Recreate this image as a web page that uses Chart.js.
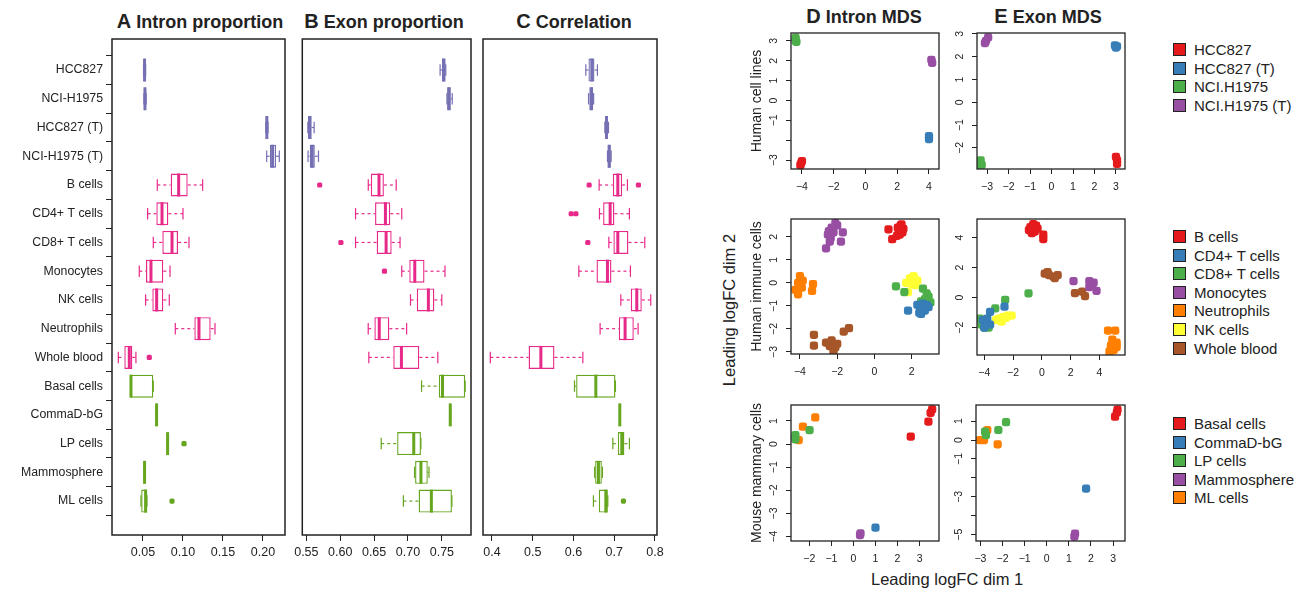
<!DOCTYPE html>
<html>
<head>
<meta charset="utf-8">
<script src="https://cdn.jsdelivr.net/npm/chart.js@4.4.0/dist/chart.umd.min.js"></script>
<style>
  body { margin: 0; width: 1310px; height: 592px; position: relative; overflow: hidden; background: #fff;
         font-family: "Liberation Sans", Arial, sans-serif; color: #222; }
  canvas { position: absolute; }
  .titulo { position: absolute; width: 300px; text-align: center; font-weight: bold; font-size: 18px; line-height: 22px; }
  .titulo span { font-size: 20px; margin-right: 5px; }
  .eje { position: absolute; font-size: 16.5px; white-space: nowrap; line-height: 20px; }
  .item { position: absolute; left: 1173px; height: 18px; line-height: 18px; font-size: 15px; white-space: nowrap; }
  .item i { display: inline-block; width: 11px; height: 11px; border: 1px solid #222; vertical-align: -1px; margin-right: 8px; }
</style>
</head>
<body>
<div class="titulo" style="left:50px;top:10px"><span>A</span>Intron proportion</div>
<div class="titulo" style="left:234px;top:10px"><span>B</span>Exon proportion</div>
<div class="titulo" style="left:424px;top:10px"><span>C</span>Correlation</div>
<div class="titulo" style="left:714px;top:5px"><span>D</span>Intron MDS</div>
<div class="titulo" style="left:898px;top:5px"><span>E</span>Exon MDS</div>
<div class="eje" style="left:871px;top:569px">Leading logFC dim 1</div>
<div class="eje" style="left:729px;top:310px;transform:translate(-50%,-50%) rotate(-90deg)">Leading logFC dim 2</div>

<script>
Chart.defaults.animation = false;
Chart.defaults.font.family = '"Liberation Sans", Arial, sans-serif';
Chart.defaults.color = "#222";

// ---- boxplots (A, B, C) ----
const categorias = ["HCC827", "NCI-H1975", "HCC827 (T)", "NCI-H1975 (T)", "B cells", "CD4+ T cells",
  "CD8+ T cells", "Monocytes", "NK cells", "Neutrophils", "Whole blood", "Basal cells", "CommaD-bG",
  "LP cells", "Mammosphere", "ML cells"];
const grupoCategoria = [0, 0, 0, 0, 1, 1, 1, 1, 1, 1, 1, 2, 2, 2, 2, 2];
const coloresGrupo = ["#7570B3", "#E7298A", "#66A61E"];

// [min, q1, mediana, q3, max]
const intronCajas = [
  [0.0507, 0.0512, 0.052, 0.0528, 0.0533],
  [0.0512, 0.0518, 0.0525, 0.0535, 0.054],
  [0.2035, 0.204, 0.2048, 0.2058, 0.2063],
  [0.2046, 0.2087, 0.212, 0.2163, 0.2204],
  [0.0679, 0.0846, 0.0946, 0.1059, 0.1246],
  [0.0558, 0.0667, 0.0738, 0.0817, 0.1],
  [0.0629, 0.0742, 0.0863, 0.0938, 0.1075],
  [0.0454, 0.0538, 0.06, 0.0754, 0.0838],
  [0.0533, 0.0617, 0.0671, 0.0754, 0.0829],
  [0.0904, 0.1142, 0.12, 0.1346, 0.14],
  [0.0192, 0.0267, 0.0329, 0.0367, 0.0412],
  [0.0346, 0.0346, 0.035, 0.0629, 0.0629],
  [0.0667, 0.0668, 0.067, 0.0672, 0.0673],
  [0.0803, 0.0805, 0.0808, 0.081, 0.0812],
  [0.0517, 0.0518, 0.052, 0.0522, 0.0523],
  [0.0475, 0.0478, 0.0533, 0.055, 0.055]
];
const intronAtipicos = [[10, 0.0579], [13, 0.1013], [15, 0.0863]];

const exonCajas = [
  [0.7474, 0.7502, 0.7527, 0.7555, 0.7558],
  [0.7575, 0.7578, 0.7605, 0.7631, 0.7653],
  [0.5522, 0.5525, 0.555, 0.5578, 0.5615],
  [0.5525, 0.555, 0.5587, 0.5625, 0.5679],
  [0.6414, 0.6451, 0.6572, 0.6644, 0.6826],
  [0.6226, 0.6514, 0.6667, 0.6739, 0.6908],
  [0.6226, 0.6538, 0.6677, 0.6759, 0.6883],
  [0.6908, 0.7019, 0.71, 0.7244, 0.7546],
  [0.7037, 0.713, 0.7301, 0.7389, 0.7499],
  [0.6413, 0.6504, 0.6576, 0.6725, 0.698],
  [0.6422, 0.6783, 0.6903, 0.7167, 0.744],
  [0.72, 0.7455, 0.7509, 0.7844, 0.7844],
  [0.7618, 0.762, 0.7624, 0.7628, 0.763],
  [0.6605, 0.684, 0.7085, 0.7191, 0.7191],
  [0.7097, 0.7105, 0.7191, 0.7292, 0.731],
  [0.6932, 0.7157, 0.7345, 0.7648, 0.7648]
];
const exonAtipicos = [[4, 0.5697], [6, 0.601], [7, 0.6653]];

const corrCajas = [
  [0.6303, 0.6368, 0.645, 0.6515, 0.6588],
  [0.637, 0.6393, 0.6434, 0.6483, 0.6495],
  [0.677, 0.6777, 0.681, 0.6851, 0.686],
  [0.6835, 0.6843, 0.6875, 0.6917, 0.6925],
  [0.663, 0.6966, 0.7088, 0.7193, 0.7324],
  [0.6638, 0.6728, 0.69, 0.7005, 0.7373],
  [0.6868, 0.698, 0.7088, 0.7349, 0.775],
  [0.6132, 0.6565, 0.6834, 0.6932, 0.7398],
  [0.7162, 0.7406, 0.7554, 0.7676, 0.7897],
  [0.6654, 0.7112, 0.7267, 0.748, 0.7586],
  [0.3959, 0.4899, 0.52, 0.5534, 0.623],
  [0.6025, 0.6066, 0.6549, 0.703, 0.703],
  [0.7132, 0.7134, 0.7137, 0.714, 0.7142],
  [0.6966, 0.7088, 0.7186, 0.725, 0.7373],
  [0.652, 0.6532, 0.6613, 0.6696, 0.671],
  [0.649, 0.6622, 0.6794, 0.6843, 0.6843]
];
const corrAtipicos = [[4, 0.6385], [4, 0.7594], [5, 0.5944], [5, 0.6059], [6, 0.6352], [15, 0.7226]];

const intronTicks = [0.05, 0.10, 0.15, 0.20];
const exonTicks = [0.55, 0.60, 0.65, 0.70, 0.75];
const corrTicks = [0.4, 0.5, 0.6, 0.7, 0.8];

// ---- MDS (D, E) ----
const lineas = ["HCC827", "HCC827 (T)", "NCI.H1975", "NCI.H1975 (T)"];
const inmunes = ["B cells", "CD4+ T cells", "CD8+ T cells", "Monocytes", "Neutrophils", "NK cells", "Whole blood"];
const mamarias = ["Basal cells", "CommaD-bG", "LP cells", "Mammosphere", "ML cells"];
const set1 = ["#E41A1C", "#377EB8", "#4DAF4A", "#984EA3", "#FF7F00", "#FFFF33", "#A65628"];

const intronLineas = [
  [[-4.0, -3.05], [-4.05, -3.15], [-4.1, -3.25]],
  [[4.0, -1.8], [4.0, -1.95]],
  [[-4.4, 3.15], [-4.4, 3.0], [-4.35, 2.95]],
  [[4.15, 2.05], [4.2, 1.9]]
];
const exonLineas = [
  [[3.0, -2.4], [3.05, -2.55], [3.05, -2.7]],
  [[2.95, 2.5], [3.05, 2.45], [3.0, 2.4]],
  [[-3.3, -2.55], [-3.25, -2.75], [-3.3, -2.8]],
  [[-2.95, 2.85], [-3.05, 2.7], [-3.1, 2.6]]
];
const intronInmunes = [
  [[0.75, 2.33], [0.95, 1.9], [1.2, 2.05], [1.3, 2.3], [1.4, 2.5], [1.5, 2.2], [1.35, 2.1], [1.25, 2.4], [1.55, 2.35], [1.45, 2.55]],
  [[1.8, -1.2], [2.3, -0.95], [2.4, -1.3], [2.5, -1.1], [2.6, -0.9], [2.7, -1.2], [2.8, -0.95], [2.5, -1.35], [2.9, -1.05]],
  [[1.15, -0.15], [1.6, -0.4], [2.6, -0.25], [2.8, -0.45], [2.9, -0.6], [3.0, -0.85], [2.5, -0.8], [2.7, -0.7]],
  [[-2.5, 2.1], [-2.3, 2.4], [-2.1, 2.6], [-2.0, 2.5], [-2.4, 1.8], [-2.6, 1.5], [-1.7, 2.2], [-1.8, 1.8], [-2.2, 2.2], [-2.45, 2.25], [-2.35, 1.95]],
  [[-4.0, 0.3], [-4.1, 0.0], [-4.25, -0.3], [-4.1, -0.5], [-3.9, -0.2], [-3.85, 0.1], [-3.3, -0.05], [-3.35, -0.35], [-4.05, -0.15]],
  [[1.8, -0.4], [1.9, 0.2], [2.1, 0.3], [2.3, 0.1], [2.2, -0.1], [2.0, -0.05], [1.7, 0.0]],
  [[-3.25, -2.26], [-3.25, -2.73], [-2.6, -2.6], [-2.3, -2.5], [-2.1, -2.8], [-2.2, -3.0], [-2.0, -2.65], [-1.65, -2.12], [-1.37, -1.97], [-2.4, -2.75]]
];
const exonInmunes = [
  [[-0.8, 4.7], [-0.6, 4.9], [-0.4, 4.8], [-0.9, 4.5], [-0.5, 4.4], [0.1, 4.2], [0.1, 3.9], [-0.7, 4.3], [-0.3, 4.6]],
  [[-2.6, -0.6], [-3.6, -0.95], [-4.1, -1.5], [-3.6, -1.8], [-4.0, -2.0], [-3.8, -1.4]],
  [[-2.55, -0.15], [-3.24, -0.71], [-0.93, 0.29], [-4.2, -1.8], [-4.0, -2.0], [-3.7, -2.0], [-4.3, -1.4]],
  [[2.2, 1.1], [3.3, 1.1], [3.5, 0.8], [3.8, 0.45], [3.3, 0.7], [3.6, 1.0]],
  [[4.6, -2.2], [5.1, -2.2], [4.9, -2.8], [5.2, -3.0], [4.8, -3.2], [5.0, -3.5], [4.7, -3.6], [5.2, -3.3]],
  [[-3.0, -1.4], [-2.7, -1.3], [-2.4, -1.2], [-2.1, -1.2], [-2.8, -1.6], [-3.2, -1.5], [-2.5, -1.35]],
  [[0.2, 1.6], [0.5, 1.5], [0.8, 1.4], [1.1, 1.5], [0.4, 1.7], [0.9, 1.3], [2.3, 0.3], [2.8, 0.4], [3.0, 0.1]]
];
const intronMamarias = [
  [[3.57, 1.5], [3.5, 1.35], [3.4, 0.97], [2.6, 0.32]],
  [[1.0, -3.61]],
  [[-2.63, 0.39], [-2.63, 0.2], [-1.99, 0.6]],
  [[0.3, -3.94], [0.32, -3.86]],
  [[-1.73, 1.15], [-2.29, 0.75], [-2.48, 0.17]]
];
const exonMamarias = [
  [[3.2, 1.6], [3.17, 1.45], [3.09, 1.23]],
  [[1.78, -2.56]],
  [[-1.84, 0.94], [-2.19, 0.53], [-2.79, 0.44], [-2.75, 0.26]],
  [[1.28, -4.94], [1.25, -5.1]],
  [[-2.69, 0.53], [-3.02, 0], [-2.84, 0], [-2.22, -0.23]]
];

function crearLienzo(rect) {
  const c = document.createElement("canvas");
  c.width = rect.w; c.height = rect.h;
  c.style.left = rect.x + "px"; c.style.top = rect.y + "px";
  document.body.appendChild(c);
  return c;
}

function linea(ctx, x1, y1, x2, y2) {
  ctx.beginPath(); ctx.moveTo(x1, y1); ctx.lineTo(x2, y2); ctx.stroke();
}

function pluginMarco(grosor) {
  return {
    id: "marco",
    afterDraw(chart) {
      const { ctx, chartArea: a } = chart;
      ctx.save();
      ctx.strokeStyle = "#222"; ctx.lineWidth = grosor;
      ctx.strokeRect(a.left, a.top, a.right - a.left, a.bottom - a.top);
      ctx.restore();
    }
  };
}

// bigotes y medianas encima de las cajas
function pluginBigotes(cajas) {
  return {
    id: "bigotes",
    afterDatasetsDraw(chart) {
      const { ctx, scales: { x, y } } = chart;
      const medio = Math.abs(y.getPixelForValue(0.4) - y.getPixelForValue(0));
      const tope = medio / 2;
      ctx.save();
      cajas.forEach((s, i) => {
        const yc = y.getPixelForValue(i);
        const [mn, q1, md, q3, mx] = s.map(v => x.getPixelForValue(v));
        ctx.strokeStyle = coloresGrupo[grupoCategoria[i]];
        ctx.lineWidth = 1.2;
        ctx.setLineDash([3, 3]);
        if (q1 - mn > 1) linea(ctx, mn, yc, q1, yc);
        if (mx - q3 > 1) linea(ctx, q3, yc, mx, yc);
        ctx.setLineDash([]);
        linea(ctx, mn, yc - tope, mn, yc + tope);
        linea(ctx, mx, yc - tope, mx, yc + tope);
        ctx.lineWidth = 3;
        linea(ctx, md, yc - medio, md, yc + medio);
      });
      ctx.restore();
    }
  };
}

function panelCajas(rect, area, cajas, atipicos, ticksX, minX, maxX, decimales, conEtiquetas) {
  const colores = categorias.map((c, i) => coloresGrupo[grupoCategoria[i]]);
  new Chart(crearLienzo(rect), {
    type: "scatter",
    data: {
      datasets: [
        {
          type: "bar", indexAxis: "y",
          data: cajas.map((s, i) => ({ x: [s[1], s[3]], y: i })),
          backgroundColor: "#fff", borderColor: colores, borderWidth: 1.4, borderSkipped: false,
          categoryPercentage: 0.8, barPercentage: 1
        },
        {
          type: "scatter",
          data: atipicos.map(a => ({ x: a[1], y: a[0] })),
          pointStyle: "rectRounded", pointRadius: 3, borderWidth: 0,
          backgroundColor: atipicos.map(a => coloresGrupo[grupoCategoria[a[0]]])
        }
      ]
    },
    options: {
      responsive: false,
      layout: { padding: { left: 0, bottom: 0, top: area.t - rect.y, right: rect.x + rect.w - area.r } },
      plugins: { legend: { display: false }, tooltip: { enabled: false } },
      scales: {
        x: {
          type: "linear", min: minX, max: maxX, offset: false,
          afterBuildTicks: s => { s.ticks = ticksX.map(v => ({ value: v })); },
          afterFit: s => { s.height = rect.y + rect.h - area.b; },
          ticks: { callback: v => v.toFixed(decimales), font: { size: 12.5 }, color: "#222", padding: 4, maxRotation: 0, autoSkip: false },
          grid: { drawOnChartArea: false, tickLength: 6, color: "#222" },
          border: { display: false }
        },
        y: {
          type: "linear", min: -1.08, max: 16.18, reverse: true, offset: false,
          afterBuildTicks: s => { s.ticks = categorias.map((c, i) => ({ value: i })); },
          afterFit: s => { s.width = area.l - rect.x; },
          ticks: { display: conEtiquetas, callback: (v, i) => categorias[i], font: { size: 12.3 }, color: "#222", padding: 3, autoSkip: false },
          grid: { display: conEtiquetas, drawOnChartArea: false, tickLength: 6, color: "#222" },
          border: { display: false }
        }
      }
    },
    plugins: [pluginBigotes(cajas), pluginMarco(1.5)]
  });
}

// etiquetas del eje y giradas, al estilo de R
function pluginEtiquetasY(valores, textos) {
  return {
    id: "etiquetasY",
    afterDraw(chart) {
      const { ctx, chartArea: a, scales: { y } } = chart;
      ctx.save();
      ctx.font = '10.5px "Liberation Sans", Arial, sans-serif';
      ctx.fillStyle = "#222"; ctx.textAlign = "center"; ctx.textBaseline = "middle";
      valores.forEach((v, i) => {
        if (!textos[i]) return;
        ctx.save();
        ctx.translate(a.left - 17, y.getPixelForValue(v));
        ctx.rotate(-Math.PI / 2);
        ctx.fillText(textos[i], 0, 0);
        ctx.restore();
      });
      ctx.restore();
    }
  };
}

function etiqueta(v) { return v < 0 ? "\u2212" + Math.abs(v) : String(v); }

function panelMDS(p) {
  new Chart(crearLienzo(p.rect), {
    type: "scatter",
    data: {
      datasets: p.grupos.map((g, k) => ({
        label: g,
        data: p.puntos[k].map(q => ({ x: q[0], y: q[1] })),
        backgroundColor: set1[k], borderWidth: 0,
        pointStyle: "rectRounded", pointRadius: 4.8, pointHoverRadius: 4.8
      }))
    },
    options: {
      responsive: false,
      layout: { padding: { left: 0, bottom: 0, top: p.area.t - p.rect.y, right: p.rect.x + p.rect.w - p.area.r } },
      plugins: { legend: { display: false }, tooltip: { enabled: false } },
      scales: {
        x: {
          type: "linear", min: p.rangoX[0], max: p.rangoX[1],
          afterBuildTicks: s => { s.ticks = p.ticksX.map(v => ({ value: v })); },
          afterFit: s => { s.height = p.rect.y + p.rect.h - p.area.b; },
          ticks: { callback: v => etiqueta(v), font: { size: 10.5 }, color: "#222", padding: 7, maxRotation: 0, autoSkip: false },
          grid: { drawOnChartArea: false, tickLength: 5, color: "#222" },
          border: { display: false }
        },
        y: {
          type: "linear", min: p.rangoY[0], max: p.rangoY[1],
          afterBuildTicks: s => { s.ticks = p.ticksY.map(v => ({ value: v })); },
          afterFit: s => { s.width = p.area.l - p.rect.x; },
          ticks: { display: false },
          grid: { drawOnChartArea: false, tickLength: 5, color: "#222" },
          border: { display: false },
          title: { display: !!p.tituloY, text: p.tituloY || "", font: { size: 14 }, color: "#222", padding: 0 }
        }
      }
    },
    plugins: [pluginEtiquetasY(p.ticksY, p.textosY), pluginMarco(1.3)]
  });
}

function leyenda(top, nombres) {
  nombres.forEach((n, k) => {
    const d = document.createElement("div");
    d.className = "item";
    d.style.top = (top + k * 18.6 - 9) + "px";
    d.innerHTML = '<i style="background:' + set1[k] + '"></i>' + n;
    document.body.appendChild(d);
  });
}

panelCajas({ x: 0, y: 0, w: 290, h: 592 }, { l: 112, t: 39, r: 285, b: 535 },
  intronCajas, intronAtipicos, intronTicks, 0.0113, 0.2275, 2, true);
panelCajas({ x: 290, y: 0, w: 185, h: 592 }, { l: 298, t: 39, r: 471, b: 535 },
  exonCajas, exonAtipicos, exonTicks, 0.544, 0.793, 2, false);
panelCajas({ x: 475, y: 0, w: 195, h: 592 }, { l: 483, t: 39, r: 657, b: 535 },
  corrCajas, corrAtipicos, corrTicks, 0.378, 0.805, 1, false);

panelMDS({ rect: { x: 749, y: 20, w: 200, h: 180 }, area: { l: 791, t: 33, r: 939, b: 169 },
  grupos: lineas, puntos: intronLineas, rangoX: [-4.69, 4.63], rangoY: [-3.45, 3.4],
  ticksX: [-4, -2, 0, 2, 4], ticksY: [-3, -2, -1, 0, 1, 2, 3],
  textosY: ["\u22123", "", "\u22121", "0", "1", "2", "3"], tituloY: "Human cell lines" });
panelMDS({ rect: { x: 950, y: 20, w: 185, h: 180 }, area: { l: 977, t: 33, r: 1125, b: 169 },
  grupos: lineas, puntos: exonLineas, rangoX: [-3.47, 3.42], rangoY: [-2.93, 3.04],
  ticksX: [-3, -2, -1, 0, 1, 2, 3], ticksY: [-2, -1, 0, 1, 2, 3],
  textosY: ["\u22122", "\u22121", "0", "1", "2", "3"] });

panelMDS({ rect: { x: 749, y: 205, w: 200, h: 180 }, area: { l: 791, t: 219, r: 939, b: 354 },
  grupos: inmunes, puntos: intronInmunes, rangoX: [-4.48, 3.46], rangoY: [-3.09, 2.78],
  ticksX: [-4, -2, 0, 2], ticksY: [-3, -2, -1, 0, 1, 2],
  textosY: ["\u22123", "\u22122", "\u22121", "0", "1", "2"], tituloY: "Human immune cells" });
panelMDS({ rect: { x: 950, y: 205, w: 185, h: 180 }, area: { l: 977, t: 219, r: 1125, b: 355 },
  grupos: inmunes, puntos: exonInmunes, rangoX: [-4.51, 5.78], rangoY: [-3.82, 5.24],
  ticksX: [-4, -2, 0, 2, 4], ticksY: [-2, 0, 2, 4],
  textosY: ["\u22122", "0", "2", "4"] });

panelMDS({ rect: { x: 749, y: 390, w: 200, h: 178 }, area: { l: 791, t: 405, r: 939, b: 541 },
  grupos: mamarias, puntos: intronMamarias, rangoX: [-2.83, 3.88], rangoY: [-4.19, 1.69],
  ticksX: [-2, -1, 0, 1, 2, 3], ticksY: [-4, -3, -2, -1, 0, 1],
  textosY: ["\u22124", "\u22123", "\u22122", "\u22121", "0", "1"], tituloY: "Mouse mammary cells" });
panelMDS({ rect: { x: 949, y: 390, w: 186, h: 178 }, area: { l: 976, t: 405, r: 1125, b: 541 },
  grupos: mamarias, puntos: exonMamarias, rangoX: [-3.2, 3.54], rangoY: [-5.33, 1.85],
  ticksX: [-3, -2, -1, 0, 1, 2, 3], ticksY: [-5, -4, -3, -2, -1, 0, 1],
  textosY: ["\u22125", "", "\u22123", "", "\u22121", "0", "1"] });

leyenda(50, lineas);
leyenda(237, inmunes);
leyenda(424, mamarias);
</script>
</body>
</html>
